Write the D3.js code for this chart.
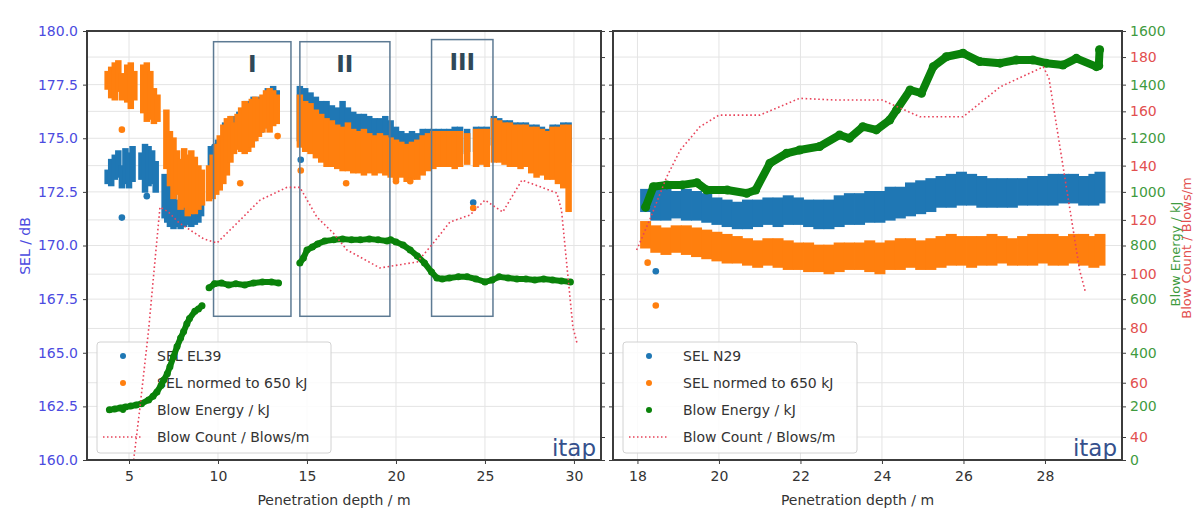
<!DOCTYPE html>
<html><head><meta charset="utf-8">
<script src="https://cdn.jsdelivr.net/npm/d3@7"></script>
<style>body{margin:0;background:#fff}svg text{font-family:"DejaVu Sans",sans-serif}</style>
</head><body><svg id="c" width="1195" height="526"></svg>
<script>
// ---------- DATA ----------
const leftTicksX = [5, 10, 15, 20, 25, 30];
const rightTicksX = [18, 20, 22, 24, 26, 28];
const selTicks = [160, 162.5, 165, 167.5, 170, 172.5, 175, 177.5, 180];
const energyTicks = [0, 200, 400, 600, 800, 1000, 1200, 1400, 1600];
const countTicks = [40, 60, 80, 100, 120, 140, 160, 180];

const xLabel = "Penetration depth / m";
const selLabel = "SEL / dB";
const energyLabel = "Blow Energy / kJ";
const countLabel = "Blow Count / Blows/m";
const leftLegend = ["SEL EL39", "SEL normed to 650 kJ", "Blow Energy / kJ", "Blow Count / Blows/m"];
const rightLegend = ["SEL N29", "SEL normed to 650 kJ", "Blow Energy / kJ", "Blow Count / Blows/m"];
const brand = "itap";

// zones [label, depth from, depth to, SEL bottom, SEL top]
const zones = [["I", 9.75, 14.1, 166.7, 179.5], ["II", 14.6, 19.66, 166.7, 179.5], ["III", 22.0, 25.45, 166.7, 179.6]];

// left panel (EL39): SEL columns [depth, low, high]
const leftBlue = [
 [3.8,173.0,173.4],[4.0,172.9,173.9],[4.2,173.2,174.1],[4.4,173.3,174.3],[4.6,172.8,173.6],[4.8,173.0,174.4],
 [5.0,172.8,174.2],[5.2,173.1,174.5],[5.7,173.2,174.2],[5.9,172.6,174.6],[6.1,172.9,174.5],[6.3,173.0,174.3],
 [6.5,172.6,173.8],[7.0,171.4,173.2],[7.15,171.2,173.1],[7.3,171.0,172.8],[7.5,170.9,172.4],[7.7,171.0,172.0],
 [7.9,170.9,171.8],[8.1,171.0,171.8],[8.3,171.1,172.0],[8.5,171.0,172.3],[8.7,171.1,172.5],[8.9,171.2,172.7],
 [9.05,171.5,172.9],[9.6,172.6,174.5],[10.0,173.0,174.8],[10.4,173.5,175.6],[10.8,174.5,175.9],[11.2,174.8,176.1],
 [11.6,174.8,176.6],[12.0,175.0,176.8],[12.4,175.4,176.8],[12.8,175.6,177.2],[13.1,175.8,177.3],[13.3,175.9,177.1],
 [14.6,175.0,177.3],[14.9,175.2,177.2],[15.2,175.0,177.0],[15.5,175.0,176.8],[15.8,174.8,176.6],[16.1,174.8,176.6],
 [16.4,174.6,176.4],[16.7,174.6,176.3],[17.0,174.8,176.6],[17.3,174.8,176.3],[17.6,174.7,176.1],[17.9,174.6,176.0],
 [18.2,174.6,176.0],[18.5,174.5,175.9],[18.8,174.5,175.8],[19.1,174.4,175.8],[19.4,174.4,175.9],[19.7,174.3,175.7],
 [20.0,174.2,175.4],[20.3,174.2,175.2],[20.6,174.1,175.1],[20.9,174.2,175.2],[21.2,174.2,175.1],[21.5,174.3,175.3],
 [21.8,174.3,175.3],[22.1,174.4,175.3],[22.4,174.5,175.3],[22.7,174.5,175.3],[23.0,174.4,175.3],[23.3,174.5,175.4],
 [23.6,174.4,175.4],[24.0,174.5,175.3],[24.5,174.5,175.4],[24.8,174.5,175.4],[25.1,174.6,175.4],[25.5,174.8,175.9],
 [25.8,174.8,175.8],[26.1,174.7,175.7],[26.4,174.6,175.7],[26.7,174.6,175.6],[27.0,174.5,175.6],[27.3,174.6,175.6],
 [27.6,174.5,175.5],[27.9,174.4,175.5],[28.2,174.3,175.4],[28.5,174.3,175.3],[28.8,174.2,175.5],[29.1,174.3,175.5],
 [29.4,174.2,175.6],[29.7,174.0,175.6]
];
const leftOrange = [
 [3.8,177.4,178.0],[4.0,177.0,178.2],[4.2,176.9,178.4],[4.4,177.3,178.5],[4.6,176.9,177.9],[4.9,176.8,178.3],
 [5.1,176.5,178.4],[5.3,176.9,178.0],[5.8,176.3,178.3],[6.0,175.9,178.4],[6.2,176.0,178.0],[6.4,175.8,177.2],
 [6.6,175.9,176.9],[7.1,173.7,176.2],[7.3,172.9,175.2],[7.5,172.3,174.9],[7.7,172.5,174.3],[7.9,171.8,173.9],
 [8.1,171.9,174.4],[8.3,171.5,174.1],[8.5,171.6,174.3],[8.7,171.6,174.0],[8.9,171.8,173.6],[9.1,172.0,173.4],
 [9.5,172.2,173.6],[9.7,172.3,174.1],[9.9,172.5,174.6],[10.1,172.7,175.0],[10.3,173.0,175.5],[10.5,173.4,175.8],
 [10.7,174.0,175.9],[10.9,174.4,175.6],[11.1,174.6,176.0],[11.3,174.5,176.3],[11.5,174.4,176.6],[11.7,174.5,176.5],
 [11.9,174.7,176.7],[12.1,175.0,176.8],[12.3,175.2,176.7],[12.5,175.4,176.9],[12.7,175.6,177.1],[12.9,175.4,177.2],
 [13.1,175.7,177.1],[13.3,175.8,176.9],
 [14.6,174.7,176.9],[14.9,174.5,176.6],[15.2,174.4,176.5],[15.5,174.2,176.2],[15.8,174.0,176.0],[16.1,173.8,175.8],
 [16.4,173.8,175.7],[16.7,173.7,175.5],[17.0,173.6,175.4],[17.3,173.6,175.6],[17.6,173.5,175.3],[17.9,173.5,175.2],
 [18.2,173.4,175.3],[18.5,173.5,175.1],[18.8,173.4,175.0],[19.1,173.5,175.1],[19.4,173.4,175.0],[19.7,173.3,174.9],
 [20.0,173.2,174.8],[20.3,173.3,174.7],[20.6,173.1,174.6],[20.9,173.2,174.7],[21.2,173.2,174.8],[21.5,173.4,175.0],
 [21.8,173.6,175.1],[22.1,173.7,175.2],[22.4,173.8,175.2],[22.7,173.8,175.2],[23.0,173.8,175.2],[23.3,173.7,175.2],
 [23.6,173.8,175.2],[24.0,173.9,175.1],[24.5,173.8,175.3],[24.8,173.9,175.3],[25.1,173.8,175.3],[25.5,174.0,175.8],
 [25.8,174.0,175.7],[26.1,173.9,175.6],[26.4,173.8,175.6],[26.7,173.8,175.5],[27.0,173.7,175.5],[27.3,173.8,175.5],
 [27.6,173.5,175.4],[27.9,173.3,175.4],[28.2,173.4,175.3],[28.5,173.2,175.2],[28.8,173.2,175.4],[29.1,173.0,175.4],
 [29.4,172.8,175.5],[29.7,171.7,175.5]
];
const leftBlueSingles = [[4.6,171.3],[6.0,172.3],[9.8,174.6],[14.65,174.0],[24.34,172.0]];
const leftOrangeSingles = [[4.6,175.4],[11.25,172.9],[13.35,175.1],[14.65,173.5],[17.2,172.9],[20.0,173.0],[20.8,173.0],[24.34,171.75]];
// blow energy [depth, kJ] (null = gap)
const leftEnergy = [
 [3.9,187],[4.2,190],[4.5,194],[4.8,198],[5.1,201],[5.4,205],[5.7,210],[6.1,224],[6.35,238],[6.57,254],[6.8,278],
 [6.95,298],[7.15,322],[7.3,348],[7.5,385],[7.7,423],[7.9,455],[8.07,479],[8.25,508],[8.4,528],[8.7,555],[8.9,563],[9.1,575],
 [9.3,null],
 [9.5,642],[9.8,657],[10.2,660],[10.6,653],[11.0,657],[11.5,653],[12.0,660],[12.5,664],[13.0,664],[13.4,660],
 [14.0,null],
 [14.6,735],[14.8,753],[15.0,783],[15.3,794],[15.6,806],[16.0,817],[16.5,821],[17.0,824],[17.5,821],[18.0,821],
 [18.5,824],[19.0,821],[19.5,817],[19.7,821],[20.0,813],[20.4,802],[20.8,783],[21.2,761],[21.6,735],[22.0,701],
 [22.3,679],[22.6,675],[23.0,679],[23.5,683],[24.0,683],[24.5,675],[25.0,664],[25.4,671],[25.8,683],[26.3,679],
 [26.8,675],[27.3,675],[27.8,671],[28.3,675],[28.8,671],[29.3,668],[29.8,664]
];
// blow count [depth, blows/m]
const leftCount = [
 [5.26,31.5],[5.6,50],[6.1,79.4],[6.46,105],[6.74,124.7],[7.2,123],[7.8,119],[8.5,116],[9.2,113],[9.94,111.5],
 [11.07,118.8],[12.36,127.3],[13.88,132],[14.6,132],[15.56,121],[16.5,115],[17.25,108.9],[19.1,102.3],[21.2,104.5],
 [22.1,111.5],[23.03,119.2],[24.16,121.8],[25.0,127.3],[26.0,122.9],[27.08,134.7],[29.04,129.9],[29.3,123.6],
 [29.94,80.5],[30.2,73.9]
];

// right panel (N29)
const rightBlue = [
 [18.2,171.7,172.5],[18.45,171.3,172.6],[18.7,171.3,172.5],[18.95,171.4,172.4],[19.2,171.3,172.5],[19.45,171.3,172.4],
 [19.7,171.2,172.3],[19.95,171.1,172.1],[20.2,171.0,172.0],[20.45,170.9,171.9],[20.7,170.9,172.0],[20.95,171.0,172.0],
 [21.2,171.1,172.1],[21.45,171.0,172.1],[21.7,171.1,172.2],[21.95,171.1,172.1],[22.2,171.0,172.0],[22.45,170.9,172.0],
 [22.7,170.9,172.0],[22.95,171.0,172.2],[23.2,171.1,172.3],[23.45,171.1,172.3],[23.7,171.2,172.4],[23.95,171.2,172.4],
 [24.2,171.3,172.6],[24.45,171.4,172.6],[24.7,171.5,172.8],[24.95,171.6,172.9],[25.2,171.7,173.0],[25.45,171.9,173.1],
 [25.7,171.9,173.2],[25.95,172.0,173.3],[26.2,172.0,173.2],[26.45,171.9,173.1],[26.7,171.9,173.0],[26.95,171.9,173.0],
 [27.2,171.9,173.0],[27.45,172.0,173.0],[27.7,172.0,173.1],[27.95,172.0,173.1],[28.2,172.0,173.2],[28.45,172.1,173.2],
 [28.7,172.1,173.2],[28.95,172.0,173.1],[29.2,172.0,173.2],[29.35,172.1,173.3]
];
const rightOrange = [
 [18.2,170.0,171.0],[18.45,169.8,170.8],[18.7,169.7,170.7],[18.95,169.8,170.8],[19.2,169.7,170.8],[19.45,169.6,170.7],
 [19.7,169.5,170.6],[19.95,169.4,170.5],[20.2,169.3,170.4],[20.45,169.3,170.3],[20.7,169.2,170.2],[20.95,169.1,170.1],
 [21.2,169.2,170.2],[21.45,169.1,170.2],[21.7,169.0,170.1],[21.95,169.0,170.0],[22.2,168.9,170.0],[22.45,168.9,169.9],
 [22.7,168.8,169.9],[22.95,168.9,170.0],[23.2,169.0,170.0],[23.45,169.0,170.0],[23.7,168.9,170.1],[23.95,168.8,170.0],
 [24.2,169.0,170.1],[24.45,169.0,170.2],[24.7,169.1,170.2],[24.95,169.0,170.1],[25.2,169.0,170.2],[25.45,169.1,170.3],
 [25.7,169.2,170.4],[25.95,169.2,170.3],[26.2,169.1,170.3],[26.45,169.2,170.3],[26.7,169.2,170.4],[26.95,169.3,170.3],
 [27.2,169.2,170.2],[27.45,169.2,170.3],[27.7,169.2,170.4],[27.95,169.3,170.4],[28.2,169.2,170.4],[28.45,169.2,170.3],
 [28.7,169.3,170.4],[28.95,169.2,170.4],[29.2,169.1,170.3],[29.35,169.2,170.4]
];
const rightBlueSingles = [[18.45,168.8]];
const rightOrangeSingles = [[18.25,169.2],[18.45,167.2]];
const rightEnergy = [
 [18.2,943],[18.39,1019],[18.72,1026],[19.1,1026],[19.46,1034],[19.7,1007],[20.2,1007],[20.68,995],[20.9,1007],
 [21.25,1107],[21.66,1144],[21.98,1156],[22.47,1169],[22.96,1212],[23.2,1200],[23.53,1243],[23.86,1231],[24.19,1268],
 [24.36,1306],[24.69,1380],[24.97,1368],[25.26,1467],[25.58,1504],[25.99,1517],[26.4,1486],[26.9,1480],[27.3,1492],
 [27.7,1492],[28.03,1480],[28.44,1473],[28.77,1498],[29.26,1467],[29.32,1470],[29.34,1530]
];
const rightCount = [
 [17.98,108.9],[18.3,120],[18.72,135.9],[19.05,145.7],[19.53,154.3],[20.0,158.6],[21.0,158.6],[21.98,164.8],
 [22.8,164.2],[24.0,164.2],[24.93,158],[25.99,158],[26.9,169],[27.96,176.4],[28.1,172],[28.85,101.5],[29.0,93]
];

// ---------- DRAWING ----------
const svg = d3.select("#c");
const C = {blue:"#1f77b4", orange:"#ff7f0e", green:"#0a820a", red:"#e8435a",
  grid:"#e4e4e4", spine:"#3c3c3c", selTxt:"#4b4be0", enTxt:"#3f9b3f", cntTxt:"#e2504f", zone:"#5d7a93", zoneTxt:"#2f4858", brand:"#35508c"};
const yTop = 31, yBot = 460;
const ySel = d3.scaleLinear().domain([160, 180]).range([yBot, yTop]);
const yEn = d3.scaleLinear().domain([0, 1600]).range([yBot, yTop]);
const yCnt = d3.scaleLinear().domain([31.53, 189.6]).range([yBot, yTop]);

function drawPanel(o) {
  const x = d3.scaleLinear().domain(o.xDomain).range([o.x0, o.x1]);
  const g = svg.append("g");
  const clipId = "clip" + o.id;
  svg.append("clipPath").attr("id", clipId).append("rect")
    .attr("x", o.x0).attr("y", yTop).attr("width", o.x1 - o.x0).attr("height", yBot - yTop);
  // grid
  const grid = g.append("g").attr("stroke", C.grid).attr("stroke-width", 1);
  o.ticksX.forEach(t => grid.append("line").attr("x1", x(t)).attr("x2", x(t)).attr("y1", yTop).attr("y2", yBot));
  selTicks.forEach(t => grid.append("line").attr("x1", o.x0).attr("x2", o.x1).attr("y1", ySel(t)).attr("y2", ySel(t)));
  countTicks.forEach(t => grid.append("line").attr("x1", o.x0).attr("x2", o.x1).attr("y1", yCnt(t)).attr("y2", yCnt(t)));

  const plot = g.append("g").attr("clip-path", `url(#${clipId})`);
  // SEL columns
  const cols = (data, color, w) => plot.append("g").selectAll("line").data(data).join("line")
    .attr("x1", d => x(d[0])).attr("x2", d => x(d[0]))
    .attr("y1", d => ySel(d[1]) + 3).attr("y2", d => ySel(d[2]) - 3)
    .attr("stroke", color).attr("stroke-width", w).attr("stroke-linecap", "butt");
  const dots = (data, color) => plot.append("g").selectAll("circle").data(data).join("circle")
    .attr("cx", d => x(d[0])).attr("cy", d => ySel(d[1])).attr("r", 3.3).attr("fill", color);
  cols(o.blue, C.blue, o.colW); dots(o.blueS, C.blue);
  cols(o.orange, C.orange, o.colW); dots(o.orangeS, C.orange);

  // zones
  if (o.zones) {
    o.zones.forEach(z => {
      plot.append("rect").attr("x", x(z[1])).attr("y", ySel(z[4]))
        .attr("width", x(z[2]) - x(z[1])).attr("height", ySel(z[3]) - ySel(z[4]))
        .attr("fill", "none").attr("stroke", C.zone).attr("stroke-width", 1.5);
      plot.append("text").attr("x", (x(z[1]) + x(z[2])) / 2).attr("y", ySel(z[4]) + 30)
        .attr("text-anchor", "middle").attr("font-size", 23).attr("font-weight", "bold")
        .attr("fill", C.zoneTxt).text(z[0]);
    });
  }

  // legend
  const lg = g.append("g");
  lg.append("rect").attr("x", o.lx).attr("y", 342).attr("width", 234).attr("height", 111).attr("rx", 3)
    .attr("fill", "#fff").attr("fill-opacity", 0.85).attr("stroke", "#d2d2d2");
  const rowsY = [356, 383, 410, 437];
  const mcol = [C.blue, C.orange, C.green];
  o.legend.forEach((t, i) => {
    if (i < 3) lg.append("circle").attr("cx", o.lx + 26).attr("cy", rowsY[i]).attr("r", 3).attr("fill", mcol[i]);
    else lg.append("line").attr("x1", o.lx + 6).attr("x2", o.lx + 44).attr("y1", rowsY[i]).attr("y2", rowsY[i])
      .attr("stroke", C.red).attr("stroke-width", 1.5).attr("stroke-dasharray", "1.5,2.5");
    lg.append("text").attr("x", o.lx + 60).attr("y", rowsY[i]).attr("dy", "0.35em")
      .attr("font-size", 14).attr("fill", "#333").text(t);
  });

  // twin series (drawn above legend)
  const twin = g.append("g").attr("clip-path", `url(#${clipId})`);
  const lineE = d3.line().defined(d => d[1] != null).x(d => x(d[0])).y(d => yEn(d[1]));
  twin.append("path").datum(o.energy).attr("d", lineE).attr("fill", "none").attr("stroke", C.green)
    .attr("stroke-width", o.enW).attr("stroke-linejoin", "round").attr("stroke-linecap", "round");
  twin.append("g").selectAll("circle").data(o.energy.filter(d => d[1] != null)).join("circle")
    .attr("cx", d => x(d[0])).attr("cy", d => yEn(d[1])).attr("r", o.enW / 2 + 0.5).attr("fill", C.green);
  const lineC = d3.line().x(d => x(d[0])).y(d => yCnt(d[1]));
  twin.append("path").datum(o.count).attr("d", lineC).attr("fill", "none").attr("stroke", C.red)
    .attr("stroke-width", 1.6).attr("stroke-dasharray", "1.6,2.6");

  // brand
  g.append("text").attr("x", o.x1 - 5).attr("y", yBot - 4).attr("text-anchor", "end")
    .attr("font-size", 23).attr("fill", C.brand).text(brand);

  // spines
  g.append("rect").attr("x", o.x0).attr("y", yTop).attr("width", o.x1 - o.x0).attr("height", yBot - yTop)
    .attr("fill", "none").attr("stroke", C.spine).attr("stroke-width", 2);

  // x axis
  const xa = g.append("g").attr("transform", `translate(0,${yBot})`)
    .call(d3.axisBottom(x).tickValues(o.ticksX).tickSize(4).tickPadding(7).tickFormat(d3.format("d")));
  xa.select(".domain").remove();
  xa.selectAll("line").attr("stroke", C.spine);
  xa.selectAll("text").attr("font-size", 14).attr("fill", "#333").attr("font-family", "DejaVu Sans");
  g.append("text").attr("x", (o.x0 + o.x1) / 2 - 10).attr("y", 505).attr("text-anchor", "middle")
    .attr("font-size", 14).attr("fill", "#333").text(xLabel);

  // left axis (SEL)
  const la = g.append("g").attr("transform", `translate(${o.x0},0)`)
    .call(d3.axisLeft(ySel).tickValues(selTicks).tickSize(4).tickPadding(5).tickFormat(o.showSel ? d3.format(".1f") : ""));
  la.select(".domain").remove();
  la.selectAll("line").attr("stroke", C.spine);
  la.selectAll("text").attr("font-size", 14).attr("fill", C.selTxt).attr("font-family", "DejaVu Sans");

  // right axes (energy + count)
  const showR = o.showRight;
  const ra = g.append("g").attr("transform", `translate(${o.x1},0)`)
    .call(d3.axisRight(yEn).tickValues(energyTicks).tickSize(4).tickPadding(4).tickFormat(showR ? d3.format("d") : ""));
  ra.select(".domain").remove();
  ra.selectAll("line").attr("stroke", C.spine);
  ra.selectAll("text").attr("font-size", 14).attr("fill", C.enTxt).attr("font-family", "DejaVu Sans");
  const rc = g.append("g").attr("transform", `translate(${o.x1},0)`)
    .call(d3.axisRight(yCnt).tickValues(countTicks).tickSize(4).tickPadding(4).tickFormat(showR ? d3.format("d") : ""));
  rc.select(".domain").remove();
  rc.selectAll("line").attr("stroke", C.spine);
  rc.selectAll("text").attr("font-size", 14).attr("fill", C.cntTxt).attr("font-family", "DejaVu Sans");
}

drawPanel({id: "L", x0: 87, x1: 601, xDomain: [2.64, 31.52], ticksX: leftTicksX, blue: leftBlue, orange: leftOrange,
  blueS: leftBlueSingles, orangeS: leftOrangeSingles, energy: leftEnergy, count: leftCount, zones: zones,
  legend: leftLegend, lx: 97, colW: 6.5, enW: 6, showSel: true, showRight: false});
drawPanel({id: "R", x0: 613, x1: 1122, xDomain: [17.4, 29.89], ticksX: rightTicksX, blue: rightBlue, orange: rightOrange,
  blueS: rightBlueSingles, orangeS: rightOrangeSingles, energy: rightEnergy, count: rightCount, zones: null,
  legend: rightLegend, lx: 623, colW: 11, enW: 8, showSel: false, showRight: true});

// axis titles
svg.append("text").attr("transform", "translate(30,246) rotate(-90)").attr("text-anchor", "middle")
  .attr("font-size", 14).attr("fill", C.selTxt).text(selLabel);
svg.append("text").attr("transform", "translate(1180,254) rotate(-90)").attr("text-anchor", "middle")
  .attr("font-size", 13).attr("fill", C.enTxt).text(energyLabel);
svg.append("text").attr("transform", "translate(1191,248) rotate(-90)").attr("text-anchor", "middle")
  .attr("font-size", 13).attr("fill", C.cntTxt).text(countLabel);
</script></body></html>
